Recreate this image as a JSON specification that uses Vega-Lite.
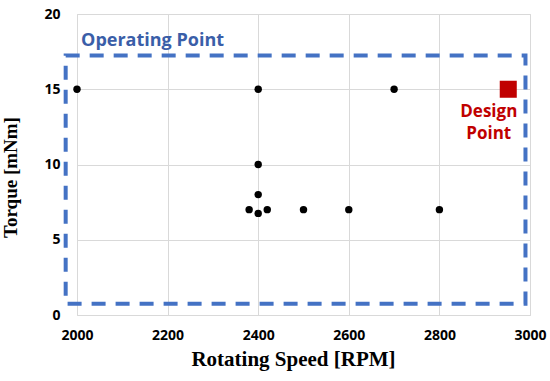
{
  "$schema": "https://vega.github.io/schema/vega-lite/v6.json",
  "width": 453,
  "height": 301,
  "autosize": {"type": "none"},
  "padding": {"left": 77, "top": 14, "right": 20, "bottom": 66},
  "background": "white",
  "config": {
    "view": {"stroke": "#d9d9d9", "strokeWidth": 1},
    "axis": {
      "gridColor": "#d9d9d9",
      "gridWidth": 1,
      "domain": false,
      "ticks": false,
      "labelFlush": false,
      "labelFont": "Open Sans",
      "labelFontWeight": "bold",
      "labelFontSize": 14,
      "labelColor": "#000000",
      "titleFont": "Liberation Serif",
      "titleFontWeight": "bold",
      "titleColor": "#000000"
    }
  },
  "datasets": {
    "ops": [
      {"speed": 2000, "torque": 15},
      {"speed": 2400, "torque": 15},
      {"speed": 2700, "torque": 15},
      {"speed": 2400, "torque": 10},
      {"speed": 2400, "torque": 8},
      {"speed": 2380, "torque": 7},
      {"speed": 2400, "torque": 6.75},
      {"speed": 2420, "torque": 7},
      {"speed": 2500, "torque": 7},
      {"speed": 2600, "torque": 7},
      {"speed": 2800, "torque": 7}
    ],
    "box": [{"x1": 1975, "x2": 2990, "y1": 0.75, "y2": 17.25}],
    "design": [{"speed": 2952, "torque": 15}],
    "oplabel": [{"speed": 2009, "torque": 17.85, "text": "Operating Point"}],
    "dplabel": [
      {"speed": 2909, "torque": 13.15, "text": "Design"},
      {"speed": 2909, "torque": 11.7, "text": "Point"}
    ]
  },
  "layer": [
    {
      "data": {"name": "box"},
      "mark": {"type": "rect", "fill": null, "fillOpacity": 0, "stroke": "#4472c4", "strokeWidth": 4, "strokeDash": [14, 10], "clip": false},
      "encoding": {
        "x": {"field": "x1", "type": "quantitative", "scale": {"domain": [2000, 3000], "nice": false, "zero": false},
              "axis": {"values": [2000, 2200, 2400, 2600, 2800, 3000], "format": "d", "labelPadding": 13, "title": "Rotating Speed [RPM]", "titleFontSize": 21, "titlePadding": 6, "titleX": 216}},
        "x2": {"field": "x2"},
        "y": {"field": "y1", "type": "quantitative", "scale": {"domain": [0, 20], "nice": false, "zero": false},
              "axis": {"values": [0, 5, 10, 15, 20], "format": "d", "labelPadding": 17, "title": "Torque [mNm]", "titleFontSize": 19, "titleX": -57, "titleY": 163}},
        "y2": {"field": "y2"}
      }
    },
    {
      "data": {"name": "ops"},
      "mark": {"type": "point", "filled": true, "shape": "circle", "color": "#000000", "opacity": 1, "size": 55},
      "encoding": {
        "x": {"field": "speed", "type": "quantitative", "scale": {"domain": [2000, 3000], "nice": false, "zero": false}},
        "y": {"field": "torque", "type": "quantitative", "scale": {"domain": [0, 20], "nice": false, "zero": false}}
      }
    },
    {
      "data": {"name": "design"},
      "mark": {"type": "point", "filled": true, "shape": "square", "color": "#c00000", "opacity": 1, "size": 290},
      "encoding": {
        "x": {"field": "speed", "type": "quantitative", "scale": {"domain": [2000, 3000], "nice": false, "zero": false}},
        "y": {"field": "torque", "type": "quantitative", "scale": {"domain": [0, 20], "nice": false, "zero": false}}
      }
    },
    {
      "data": {"name": "oplabel"},
      "mark": {"type": "text", "font": "Open Sans", "fontWeight": "bold", "fontSize": 18, "baseline": "alphabetic", "align": "left", "color": "#3a5ea8"},
      "encoding": {
        "x": {"field": "speed", "type": "quantitative", "scale": {"domain": [2000, 3000], "nice": false, "zero": false}},
        "y": {"field": "torque", "type": "quantitative", "scale": {"domain": [0, 20], "nice": false, "zero": false}},
        "text": {"field": "text"}
      }
    },
    {
      "data": {"name": "dplabel"},
      "mark": {"type": "text", "font": "Open Sans", "fontWeight": "bold", "fontSize": 17, "baseline": "alphabetic", "align": "center", "color": "#c00000"},
      "encoding": {
        "x": {"field": "speed", "type": "quantitative", "scale": {"domain": [2000, 3000], "nice": false, "zero": false}},
        "y": {"field": "torque", "type": "quantitative", "scale": {"domain": [0, 20], "nice": false, "zero": false}},
        "text": {"field": "text"}
      }
    }
  ]
}
